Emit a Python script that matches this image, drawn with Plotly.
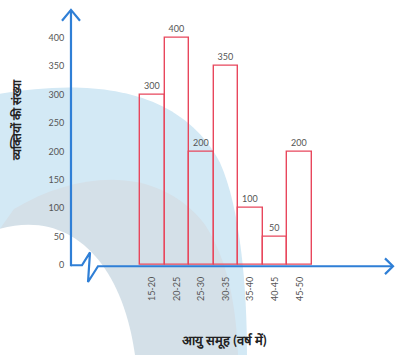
import plotly.graph_objects as go

# ---- data ----
age_groups = ["15-20", "20-25", "25-30", "30-35", "35-40", "40-45", "45-50"]
class_lower = [15, 20, 25, 30, 35, 40, 45]
class_width = 5
persons = [300, 400, 200, 350, 100, 50, 200]
y_ticks = [0, 50, 100, 150, 200, 250, 300, 350, 400]

W, H = 399, 360
BLUE = "#2f7fd6"
RED = "#e8475c"


def P(x, y):
    return f"{x / W:.4f},{1 - y / H:.4f}"


def path(cmds):
    out = []
    for c in cmds:
        if isinstance(c, str):
            out.append(c)
        else:
            out.append(P(*c))
    return " ".join(out)


centers = [l + class_width / 2 for l in class_lower]

fig = go.Figure()
fig.add_trace(go.Bar(
    x=centers, y=persons, width=class_width,
    text=[str(v) for v in persons], textposition="outside",
    textfont=dict(size=9, color="#555", family="Lato"),
    marker=dict(color="rgba(0,0,0,0)", line=dict(color=RED, width=1.4)),
    cliponaxis=False, hoverinfo="skip",
))

shapes = []
# watermark
shapes.append(dict(type="path", xref="paper", yref="paper", layer="below", line=dict(width=0),
                   fillcolor="#d3e9f5",
                   path=path(["M", (0, 95), "C", (90, 80), (180, 88), (220, 165),
                              "C", (240, 210), (247, 290), (247, 360), "L", (0, 360), "Z"])))
shapes.append(dict(type="path", xref="paper", yref="paper", layer="below", line=dict(width=0),
                   fillcolor="#d4e0e8",
                   path=path(["M", (14, 212), "C", (80, 172), (160, 168), (205, 228),
                              "C", (228, 264), (236, 310), (238, 360), "L", (0, 360), "L", (0, 232), "Z"])))
shapes.append(dict(type="path", xref="paper", yref="paper", layer="below", line=dict(width=0),
                   fillcolor="white",
                   path=path(["M", (0, 232), "C", (70, 212), (122, 265), (135, 360), "L", (0, 360), "Z"])))
# axes
shapes.append(dict(type="path", xref="paper", yref="paper", line=dict(color=BLUE, width=2.2),
                   path=path(["M", (71, 270), "L", (71, 11)])))
shapes.append(dict(type="path", xref="paper", yref="paper", line=dict(color=BLUE, width=2.2),
                   path=path(["M", (62, 21), "L", (71, 10), "L", (80, 21)])))
shapes.append(dict(type="path", xref="paper", yref="paper", line=dict(color=BLUE, width=2.2),
                   path=path(["M", (71, 269), "L", (82, 269), "L", (90, 256), "L", (88, 286),
                              "L", (98, 270), "L", (393, 270)])))
shapes.append(dict(type="path", xref="paper", yref="paper", line=dict(color=BLUE, width=2.2),
                   path=path(["M", (385, 262), "L", (393, 270), "L", (385, 278)])))

fig.update_layout(
    width=W, height=H,
    margin=dict(l=0, r=0, t=0, b=0),
    paper_bgcolor="white", plot_bgcolor="rgba(0,0,0,0)",
    showlegend=False, bargap=0,
    shapes=shapes,
    font=dict(family="Lato", size=9, color="#555"),
    xaxis=dict(domain=[71 / W, 392 / W], range=[0.96, 66.3],
               tickvals=centers, ticktext=age_groups, tickangle=-90,
               ticks="outside", ticklen=7, tickcolor="rgba(0,0,0,0)",
               showgrid=False, zeroline=False, showline=False,
               tickfont=dict(size=9, color="#555", family="Lato")),
    yaxis=dict(domain=[1 - 269 / H, 1 - 12 / H], range=[0, 445],
               tickvals=y_ticks, ticks="outside", ticklen=4, tickcolor="rgba(0,0,0,0)",
               showgrid=False, zeroline=False, showline=False,
               tickfont=dict(size=9, color="#555", family="Lato")),
    annotations=[
        dict(text="<b>व्यक्तियों की संख्या</b>", xref="paper", yref="paper",
             x=16 / W, y=1 - 122 / H, xanchor="center", yanchor="middle",
             textangle=-90, showarrow=False,
             font=dict(size=12, color="#222")),
        dict(text="<b>आयु समूह (वर्ष में)</b>", xref="paper", yref="paper",
             x=224 / W, y=1 - 345 / H, xanchor="center", yanchor="middle",
             showarrow=False,
             font=dict(size=13, color="#222")),
    ],
)

fig.write_html("out.html", config={"displayModeBar": False},
               post_script="document.body.style.margin='0';")
